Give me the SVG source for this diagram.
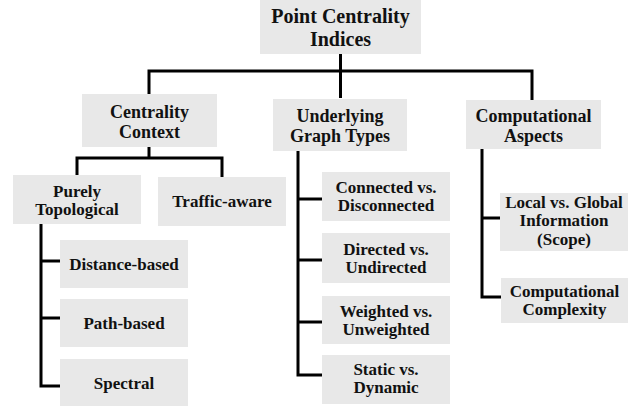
<svg xmlns="http://www.w3.org/2000/svg" width="643" height="406" viewBox="0 0 643 406">
<style>
.box{fill:#e8e8e8;}
text{font-family:"Liberation Serif","Times New Roman","DejaVu Serif",serif;font-weight:bold;font-size:17px;fill:#111;text-anchor:middle;}
.root{font-size:20px;}
.mid{font-size:18px;}
.conn{fill:none;stroke:#000;stroke-width:3;stroke-linejoin:miter;}
</style>
<rect width="643" height="406" fill="#fff"/>
<g id="connectors">
<path class="conn" d="M340.5,54 V98"/>
<path class="conn" d="M149,94 V71 H532 V100"/>
<path class="conn" d="M149,147 V158"/>
<path class="conn" d="M77,175 V158 H222 V177"/>
<path class="conn" d="M41,224 V386 H60"/>
<path class="conn" d="M41,261 H60"/>
<path class="conn" d="M41,318 H60"/>
<path class="conn" d="M298,151 V375 H322"/>
<path class="conn" d="M298,199 H322"/>
<path class="conn" d="M298,260 H322"/>
<path class="conn" d="M298,322 H322"/>
<path class="conn" d="M482,149 V297 H501"/>
<path class="conn" d="M482,218 H501"/>
</g>
<g id="root"><rect class="box" x="260" y="0" width="161" height="54"/><text class="root" x="340.5" y="23">Point Centrality<tspan x="340.5" dy="22.5">Indices</tspan></text></g>
<g id="centrality-context"><rect class="box" x="82" y="94" width="135" height="53"/><text class="mid" x="149.5" y="117.5">Centrality<tspan x="149.5" dy="20">Context</tspan></text></g>
<g id="graph-types"><rect class="box" x="273" y="99" width="134" height="52"/><text class="mid" x="340" y="121.5">Underlying<tspan x="340" dy="20">Graph Types</tspan></text></g>
<g id="computational-aspects"><rect class="box" x="466" y="100" width="135" height="49"/><text class="mid" x="533.5" y="121.5">Computational<tspan x="533.5" dy="20">Aspects</tspan></text></g>
<g id="purely-topological"><rect class="box" x="13" y="175" width="128" height="49"/><text x="77" y="196.5">Purely<tspan x="77" dy="18.5">Topological</tspan></text></g>
<g id="traffic-aware"><rect class="box" x="158" y="177" width="128" height="49"/><text x="222" y="207">Traffic-aware</text></g>
<g id="distance-based"><rect class="box" x="60" y="240" width="128" height="48"/><text x="124" y="270">Distance-based</text></g>
<g id="path-based"><rect class="box" x="60" y="299" width="128" height="48"/><text x="124" y="329">Path-based</text></g>
<g id="spectral"><rect class="box" x="60" y="359" width="128" height="47"/><text x="124" y="389">Spectral</text></g>
<g id="connected"><rect class="box" x="322" y="172" width="128" height="49"/><text x="386" y="192.5">Connected vs.<tspan x="386" dy="18.5">Disconnected</tspan></text></g>
<g id="directed"><rect class="box" x="322" y="233" width="128" height="50"/><text x="386" y="254.5">Directed vs.<tspan x="386" dy="18.5">Undirected</tspan></text></g>
<g id="weighted"><rect class="box" x="322" y="296" width="128" height="48"/><text x="386" y="316.5">Weighted vs.<tspan x="386" dy="18.5">Unweighted</tspan></text></g>
<g id="static"><rect class="box" x="322" y="355" width="128" height="49"/><text x="386" y="374.5">Static vs.<tspan x="386" dy="18.5">Dynamic</tspan></text></g>
<g id="local-global"><rect class="box" x="500" y="193" width="128" height="58"/><text x="564" y="207.5">Local vs. Global<tspan x="564" dy="18.5">Information</tspan><tspan x="564" dy="18.5">(Scope)</tspan></text></g>
<g id="complexity"><rect class="box" x="501" y="278" width="127" height="45"/><text x="564.5" y="296.5">Computational<tspan x="564.5" dy="18.5">Complexity</tspan></text></g>
</svg>
